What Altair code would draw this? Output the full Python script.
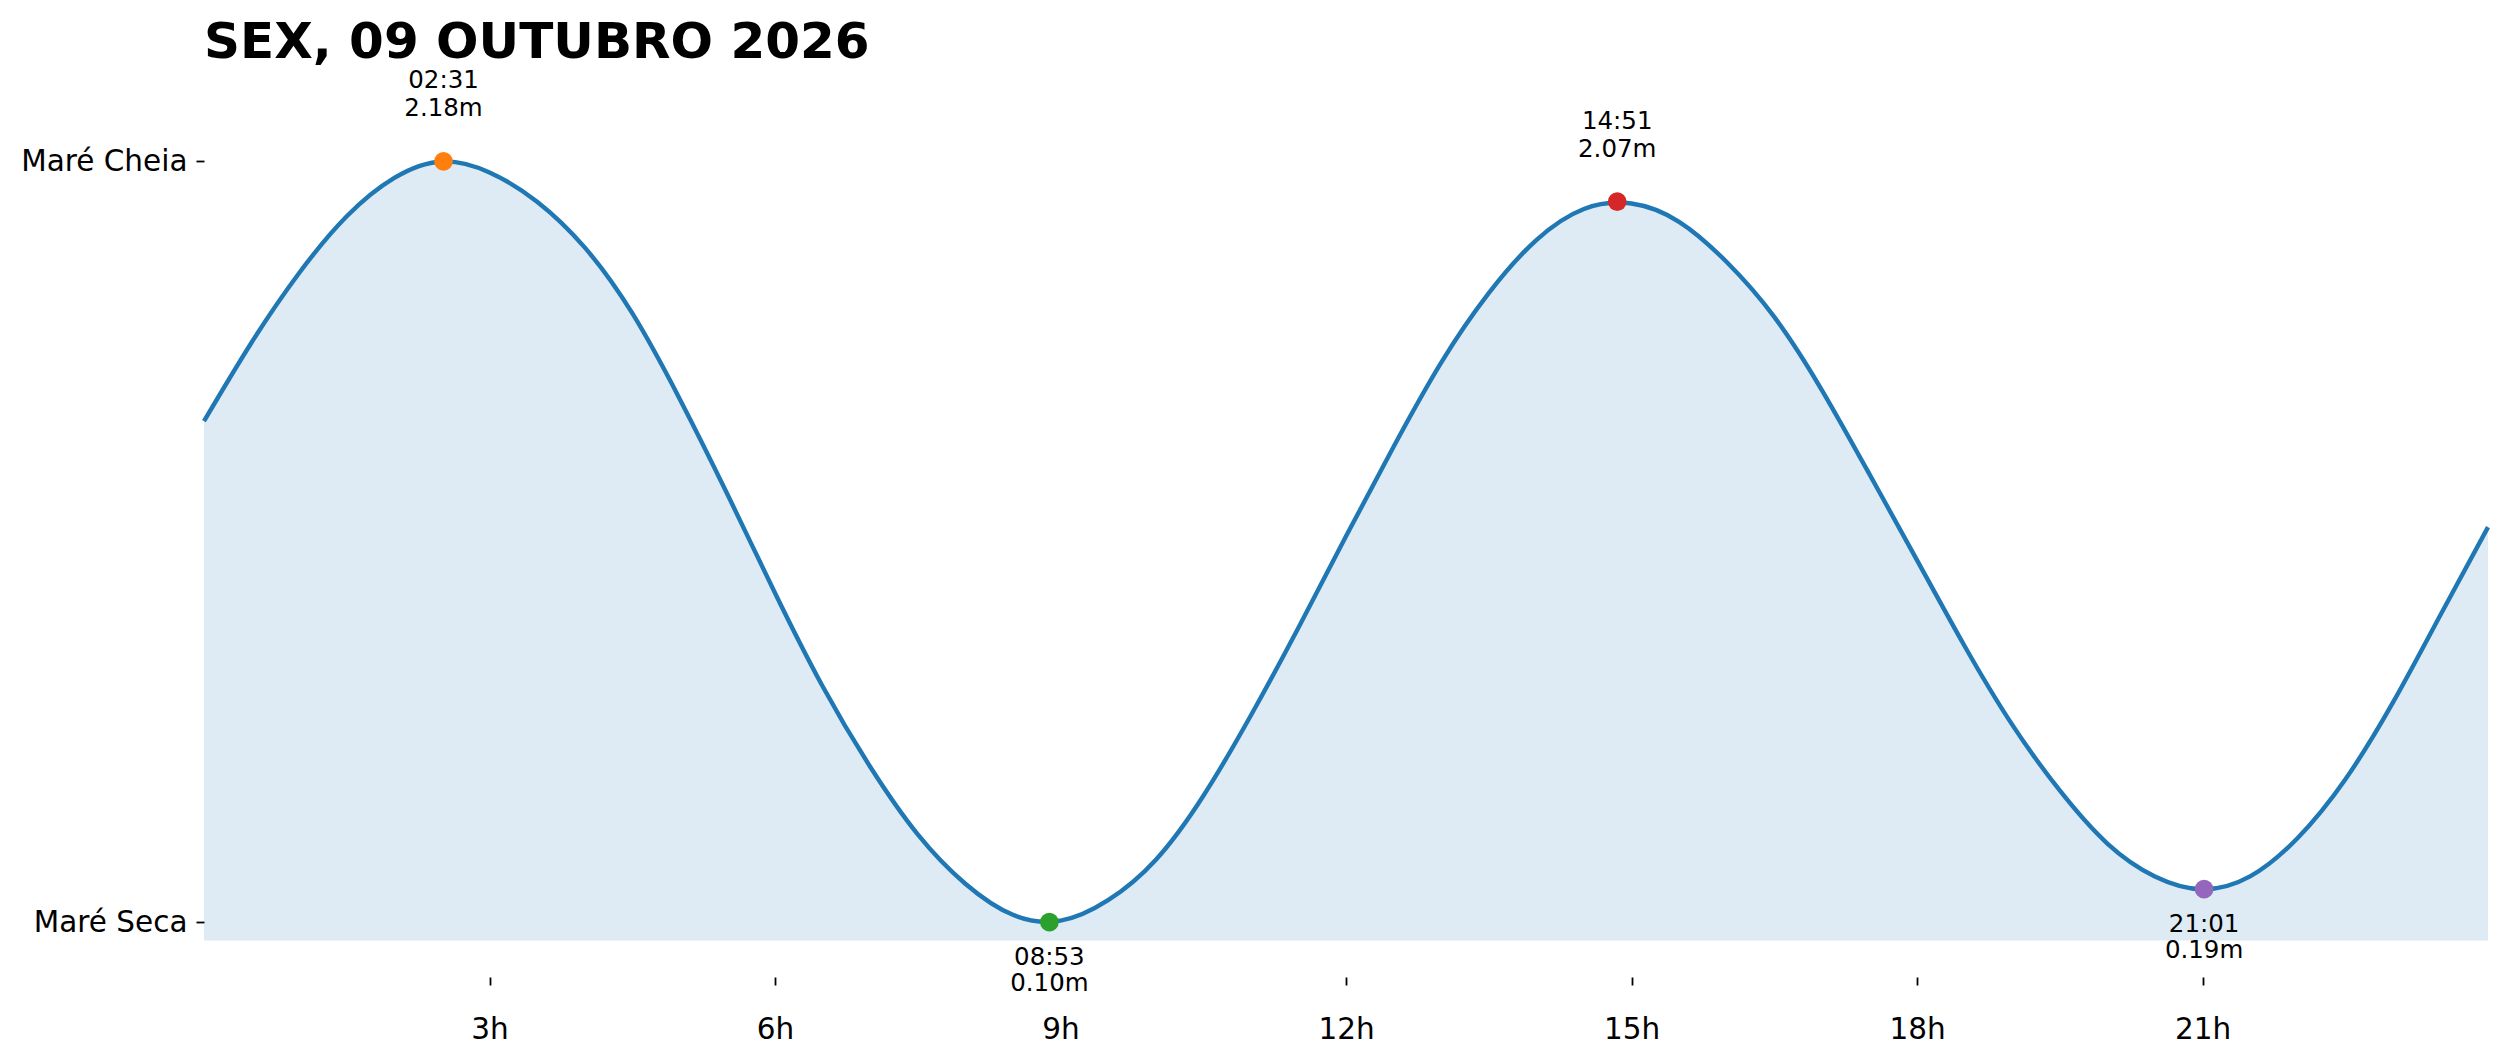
import altair as alt
import pandas as pd

# ---------------- data ----------------
title_text = "SEX, 09 OUTUBRO 2026"

# tide height read every half hour (0h .. 24h)
hours = [0.0, 0.5, 1.0, 1.5, 2.0, 2.5, 3.0, 3.5, 4.0, 4.5, 5.0, 5.5, 6.0,
         6.5, 7.0, 7.5, 8.0, 8.5, 9.0, 9.5, 10.0, 10.5, 11.0, 11.5, 12.0,
         12.5, 13.0, 13.5, 14.0, 14.5, 15.0, 15.5, 16.0, 16.5, 17.0, 17.5,
         18.0, 18.5, 19.0, 19.5, 20.0, 20.5, 21.0, 21.5, 22.0, 22.5, 23.0,
         23.5, 24.0]
heights = [1.47, 1.685, 1.875, 2.03, 2.135, 2.18, 2.15, 2.07, 1.945, 1.765,
           1.53, 1.27, 1.00, 0.745, 0.525, 0.34, 0.205, 0.12, 0.104, 0.16,
           0.27, 0.445, 0.665, 0.905, 1.155, 1.40, 1.63, 1.82, 1.965, 2.05,
           2.065, 2.015, 1.905, 1.755, 1.555, 1.325, 1.09, 0.855, 0.64, 0.46,
           0.315, 0.225, 0.19, 0.225, 0.33, 0.49, 0.70, 0.94, 1.18]
fill_base = 0.05

ext_times = ["02:31", "08:53", "14:51", "21:01"]
ext_heights = [2.18, 0.10, 2.07, 0.19]
ext_kinds = ["cheia", "seca", "cheia", "seca"]
ext_colors = ["#ff7f0e", "#2ca02c", "#d62728", "#9467bd"]

x_ticks = [3, 6, 9, 12, 15, 18, 21]
y_ticks = [0.10, 2.18]
y_tick_labels = ["Maré Seca", "Maré Cheia"]

# ---------------- tables ----------------
curve = pd.DataFrame({"hora": hours, "altura": heights,
                      "base": [fill_base] * len(hours)})

ext = pd.DataFrame({
    "hora": [int(t[:2]) + int(t[3:]) / 60 for t in ext_times],
    "altura": ext_heights,
    "tempo": ext_times,
    "rotulo": [f"{h:.2f}m" for h in ext_heights],
    "tipo": ext_kinds,
    "cor": ext_colors,
})

FONT = "DejaVu Sans"
BLUE = "#1f77b4"

x_enc = alt.X(
    "hora:Q",
    scale=alt.Scale(domain=[0, 24], nice=False, zero=False),
    axis=alt.Axis(values=x_ticks, labelExpr="datum.value + 'h'", title=None,
                  domain=False, grid=False, tickSize=8, tickColor="black",
                  tickWidth=1.8, labelFontSize=29.5, labelPadding=30,
                  labelColor="black", labelFont=FONT),
)
y_label_expr = (f"datum.value > {(y_ticks[0] + y_ticks[1]) / 2} ? "
                f"'{y_tick_labels[1]}' : '{y_tick_labels[0]}'")
y_enc = alt.Y(
    "altura:Q",
    scale=alt.Scale(domain=[-0.05, 2.43], nice=False, zero=False),
    axis=alt.Axis(values=y_ticks, labelExpr=y_label_expr, title=None,
                  domain=False, grid=False, tickSize=8, tickColor="black",
                  tickWidth=1.8, labelFontSize=29.5, labelPadding=9,
                  labelColor="black", labelFont=FONT),
)

area = alt.Chart(curve).mark_area(color=BLUE, opacity=0.15,
                                  interpolate="natural").encode(
    x=x_enc, y=y_enc, y2="base:Q")

line = alt.Chart(curve).mark_line(color=BLUE, strokeWidth=4.4,
                                  interpolate="natural").encode(
    x="hora:Q", y="altura:Q")

points = alt.Chart(ext).mark_circle(size=350, opacity=1).encode(
    x="hora:Q", y="altura:Q", color=alt.Color("cor:N", scale=None))


def label(field, kind, dy):
    return alt.Chart(ext).transform_filter(
        alt.datum.tipo == kind
    ).mark_text(font=FONT, fontSize=24.5, color="black", align="center",
                baseline="alphabetic", dy=dy).encode(
        x="hora:Q", y="altura:Q", text=f"{field}:N")


texts = [
    label("tempo", "cheia", -73),
    label("rotulo", "cheia", -45),
    label("tempo", "seca", 42.5),
    label("rotulo", "seca", 69),
]

chart = alt.layer(area, line, points, *texts).properties(
    width=2284,
    height=907,
    title=alt.TitleParams(text=title_text, anchor="start", frame="group",
                          fontSize=50, fontWeight="bold", font=FONT,
                          color="black", offset=0),
    autosize=alt.AutoSizeParams(type="none"),
    padding={"left": 196, "top": 62, "right": 5, "bottom": 70},
).configure_view(stroke=None)

chart.save("out.html", embed_options={"renderer": "svg", "actions": False})
